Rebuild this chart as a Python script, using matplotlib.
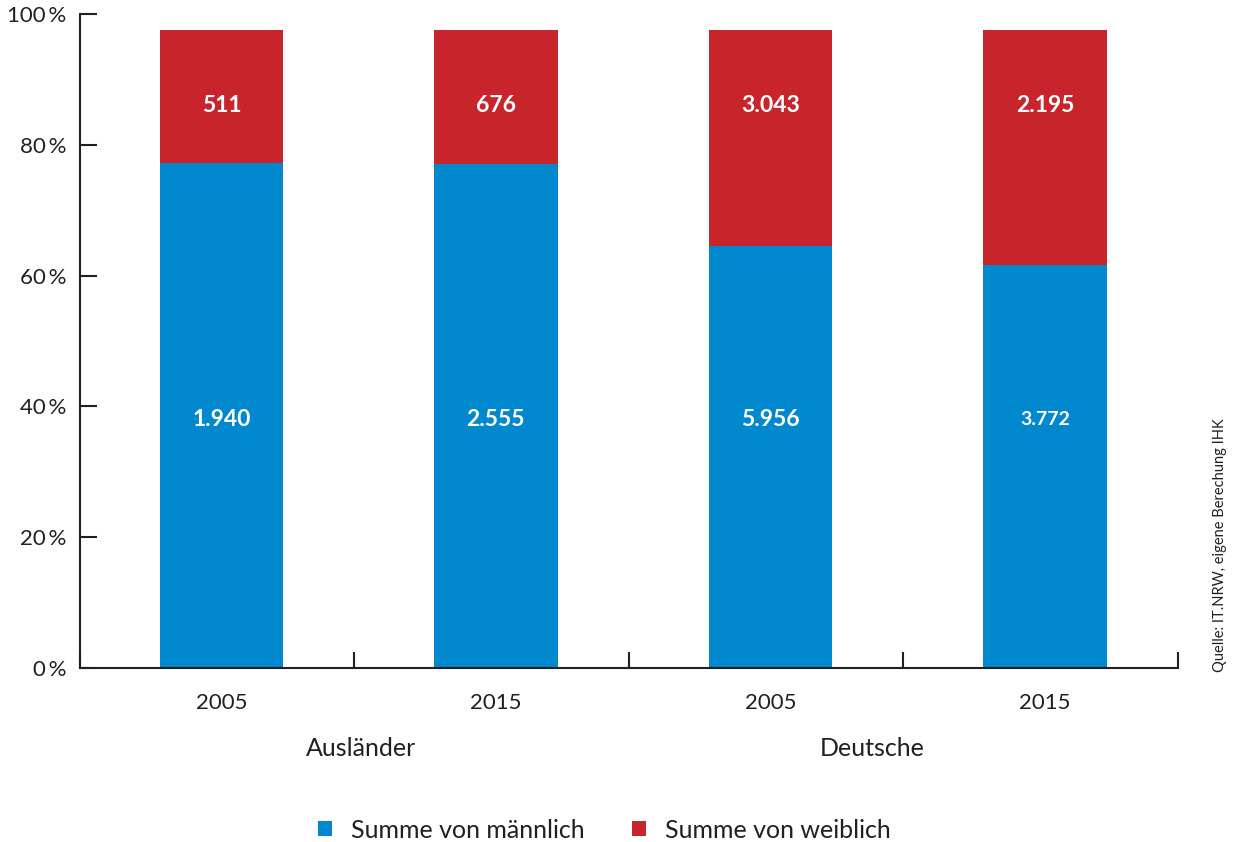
import matplotlib.pyplot as plt
import numpy as np

# Werte aus der Grafik
jahre = ['2005', '2015', '2005', '2015']
gruppen = ['Ausländer', 'Deutsche']
maennlich = [1940, 2555, 5956, 3772]
weiblich = [511, 676, 3043, 2195]
maennlich_txt = ['1.940', '2.555', '5.956', '3.772']
weiblich_txt = ['511', '676', '3.043', '2.195']

blau = '#0088cf'
rot = '#c8242c'
dunkel = '#231f20'

plt.rcParams['font.family'] = ['Lato', 'DejaVu Sans']

m = np.array(maennlich, dtype=float)
w = np.array(weiblich, dtype=float)
summe = m + w
skala = 0.975  # Balken enden knapp unter der 100%-Linie
anteil_m = m / summe * skala
anteil_w = w / summe * skala

fig = plt.figure(figsize=(12.34, 8.42), dpi=100)
ax = fig.add_axes([0.0648, 0.2067, 0.8898, 0.7767])

x = np.arange(len(jahre))
xb = x + 0.015  # Balken leicht nach rechts versetzt
ax.bar(xb, anteil_m, width=0.45, color=blau, label='Summe von männlich')
ax.bar(xb, anteil_w, bottom=anteil_m, width=0.45, color=rot, label='Summe von weiblich')

for i in range(len(x)):
    groesse = 14 if maennlich_txt[i] == '3.772' else 16.5
    ax.text(xb[i], 0.38, maennlich_txt[i], ha='center', va='center',
            color='white', fontsize=groesse, fontweight='bold')
    ax.text(xb[i], 0.86, weiblich_txt[i], ha='center', va='center',
            color='white', fontsize=16.5, fontweight='bold')

ax.set_xlim(-0.5, len(jahre) - 0.5)
ax.set_ylim(0, 1)
ax.set_yticks(np.linspace(0, 1, 6))
ax.set_yticklabels(['%d\u2009%%' % v for v in range(0, 101, 20)])
ax.tick_params(axis='y', direction='in', length=12, width=1.5, color=dunkel,
               labelsize=16, labelcolor=dunkel, pad=10)

ax.set_xticks(xb)
ax.set_xticklabels(jahre)
ax.tick_params(axis='x', length=0, labelsize=16, labelcolor=dunkel, pad=18)

# kleine Trennstriche zwischen den Balken
for g in np.arange(-0.5, len(jahre), 1.0):
    ax.plot([g, g], [0, 0.024], color=dunkel, lw=1.5, clip_on=False, solid_capstyle='butt')

for s in ['top', 'right']:
    ax.spines[s].set_visible(False)
for s in ['left', 'bottom']:
    ax.spines[s].set_color(dunkel)
    ax.spines[s].set_linewidth(1.5)

fig.text(361 / 1234, 1 - 748 / 842, gruppen[0], ha='center', va='center',
         fontsize=18, color=dunkel)
fig.text(872 / 1234, 1 - 748 / 842, gruppen[1], ha='center', va='center',
         fontsize=18, color=dunkel)

fig.text(1220 / 1234, 1 - 545 / 842, 'Quelle: IT.NRW, eigene Berechung IHK',
         rotation=90, ha='center', va='center', fontsize=10.5, color=dunkel)

fig.legend(loc='center', bbox_to_anchor=(0.4895, 1 - 830 / 842), ncol=2,
           frameon=False, fontsize=18, handlelength=0.56, handleheight=0.56,
           handletextpad=0.76, columnspacing=1.9, labelcolor=dunkel)

fig.savefig('out.png', dpi=100)
